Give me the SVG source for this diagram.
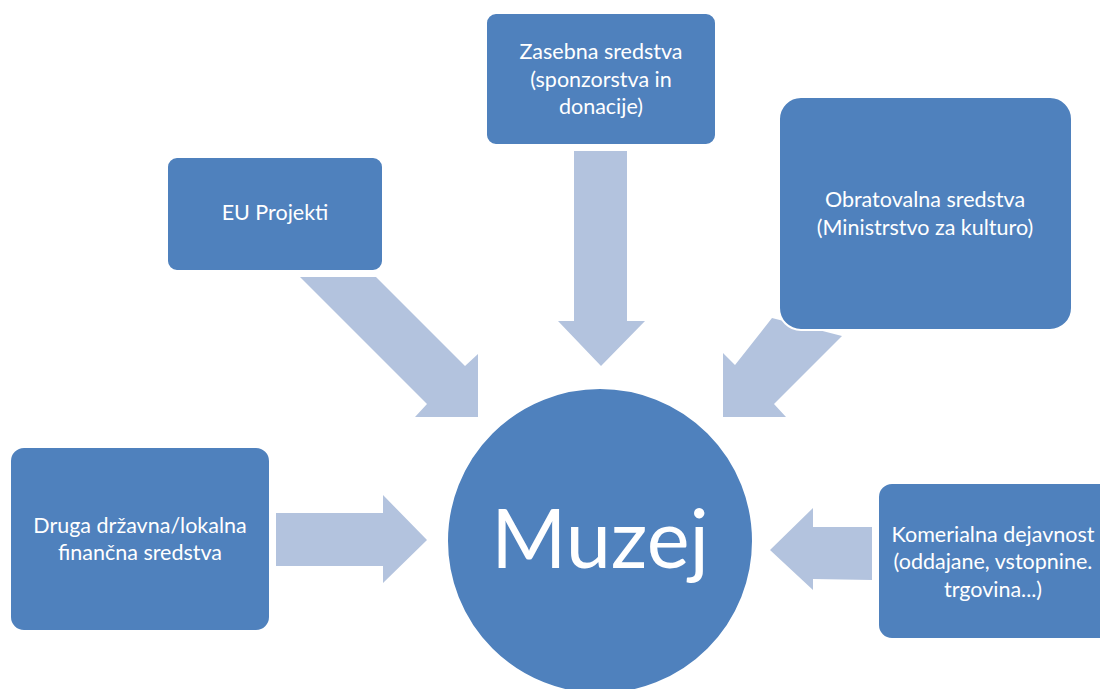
<svg xmlns="http://www.w3.org/2000/svg" width="1100" height="689" viewBox="0 0 1100 689">
<style>
.box{fill:#4F81BD;stroke:#FFFFFF;stroke-width:2}
.arr{fill:#B3C3DE;stroke:none}
.t{font-family:Lato,"Liberation Sans",sans-serif;font-size:21.5px;fill:#FFFFFF;text-anchor:middle}
.big{font-family:Lato,"Liberation Sans",sans-serif;font-size:81px;fill:#FFFFFF;text-anchor:middle}
</style>
<rect width="1100" height="689" fill="#FFFFFF"/>
<g id="connectors">
<polygon class="arr" points="574,151 627,151 627,321 645,321 601,366 558,321 574,321"/>
<polygon class="arr" points="300,277 376,277 465,366 478,354 478,417 415,417 427,404"/>
<polygon class="arr" points="772,318 842,336 774,404 786,417 723,417 723,353 735,365"/>
<polygon class="arr" points="276,513 383,513 383,495 427,540 383,583 383,566 276,566"/>
<polygon class="arr" points="872,527 872,580 813,579 813,590 770,550 813,508 813,527"/>
</g>
<g id="zasebna">
<rect class="box" x="486" y="13" width="230" height="132" rx="10"/>
<text class="t" x="601" y="59">Zasebna sredstva</text>
<text class="t" x="601" y="87">(sponzorstva in</text>
<text class="t" x="601" y="114">donacije)</text>
</g>
<g id="eu">
<rect class="box" x="167" y="157" width="216" height="114" rx="10"/>
<text class="t" x="275" y="220">EU Projekti</text>
</g>
<g id="obratovalna">
<rect class="box" x="779" y="97" width="293" height="233" rx="22"/>
<text class="t" x="925" y="207">Obratovalna sredstva</text>
<text class="t" x="925" y="235">(Ministrstvo za kulturo)</text>
</g>
<g id="druga">
<rect class="box" x="10" y="447" width="260" height="184" rx="14"/>
<text class="t" x="140" y="533">Druga državna/lokalna</text>
<text class="t" x="140" y="560">finančna sredstva</text>
</g>
<g id="komerialna">
<rect class="box" x="878" y="483" width="240" height="156" rx="14"/>
<text class="t" x="993" y="542">Komerialna dejavnost</text>
<text class="t" x="993" y="569">(oddajane, vstopnine.</text>
<text class="t" x="993" y="597">trgovina...)</text>
</g>
<g id="muzej">
<circle class="box" cx="600" cy="541" r="153"/>
<text class="big" x="600" y="568">Muzej</text>
</g>
</svg>
